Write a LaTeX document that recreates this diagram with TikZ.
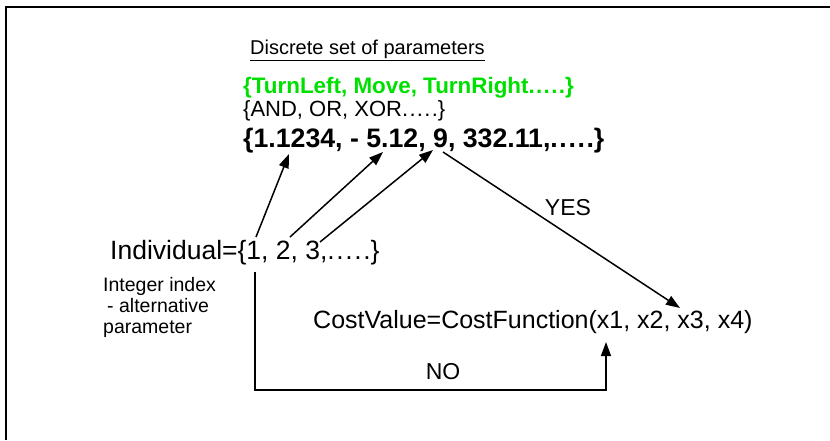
\documentclass[tikz,border=0pt]{standalone}
\usepackage{fontspec}
\setmainfont{Liberation Sans}
\usepackage{xcolor}
\usetikzlibrary{arrows.meta,calc,positioning}
\definecolor{SetGreen}{HTML}{00E000}
\newcommand\gadots{.\kern.06em.\kern.06em.\kern.06em.\kern.06em.}
\tikzset{
  gatext/.style={anchor=west, inner sep=0pt, font=\fontsize{25}{30}\selectfont},
  gatitle/.style={anchor=west, inner sep=0pt, font=\fontsize{20}{24}\selectfont},
  gagreen/.style={anchor=base west, inner sep=0pt, text height=0.75em, text depth=0.1em, text=SetGreen, font=\fontsize{22.4}{27}\selectfont\bfseries},
  gaplain/.style={anchor=base west, inner sep=0pt, text height=0.72em, text depth=0.2em, font=\fontsize{22}{26}\selectfont},
  gabold/.style={anchor=west, inner sep=0pt, font=\fontsize{26.7}{32}\selectfont\bfseries},
  ganote/.style={anchor=north west, inner sep=0pt, align=left, font=\fontsize{19.5}{21}\selectfont},
  galabel/.style={inner sep=0pt, font=\fontsize{23}{28}\selectfont},
  gaarrow/.style={-{Triangle[length=14pt,width=10pt]}, line width=1.5pt},
  gaframe/.style={line width=2.5pt}
}
\begin{document}
\begin{tikzpicture}[x=1pt,y=-1pt]
  \useasboundingbox (0,0) rectangle (830,440);
  \draw[gaframe] (6,440) -- (6,7) -- (830,7);
  \node[gatitle] (title) at (250,50) {\underline{Discrete set of parameters}};
  \node[gagreen] (moves) at (243,93.5) {\{TurnLeft, Move, TurnRight\gadots\}};
  \node[gaplain] (logic) at (243,116) {\{AND, OR, XOR\gadots\}};
  \node[gabold] (values) at (243,140.5) {\{1.1234, - 5.12, 9, 332.11,\gadots\}};
  \node[gatext, font=\fontsize{26.5}{30}\selectfont] (indiv) at (110,253) {Individual=\{1, 2, 3,\gadots\}};
  \node[ganote] (note) at (103,277) {Integer index\\\hspace*{4pt}- alternative\\parameter};
  \node[gatext] (cost) at (313,322) {CostValue=CostFunction(x1, x2, x3, x4)};
  % ends of the links
  \coordinate (i1) at (256,237);
  \coordinate (i2) at (290,237);
  \coordinate (i3) at (320,242);
  \coordinate (i0) at (255,272);
  \coordinate (v1) at (289,154);
  \coordinate (v2) at (383,152);
  \coordinate (v3) at (433,150);
  \coordinate (v4) at (443,152);
  \coordinate (c1) at (680,308);
  \coordinate (c0) at (606,342);
  \draw[gaarrow] (i1) -- (v1);
  \draw[gaarrow] (i2) -- (v2);
  \draw[gaarrow] (i3) -- (v3);
  \draw[gaarrow] (v4) -- (c1);
  \node[galabel] (yes) at (568,208) {YES};
  \draw[gaarrow] (i0) -- (i0 |- 0,390) -| (c0);
  \node[galabel] (no) at (443,372) {NO};
\end{tikzpicture}
\end{document}
